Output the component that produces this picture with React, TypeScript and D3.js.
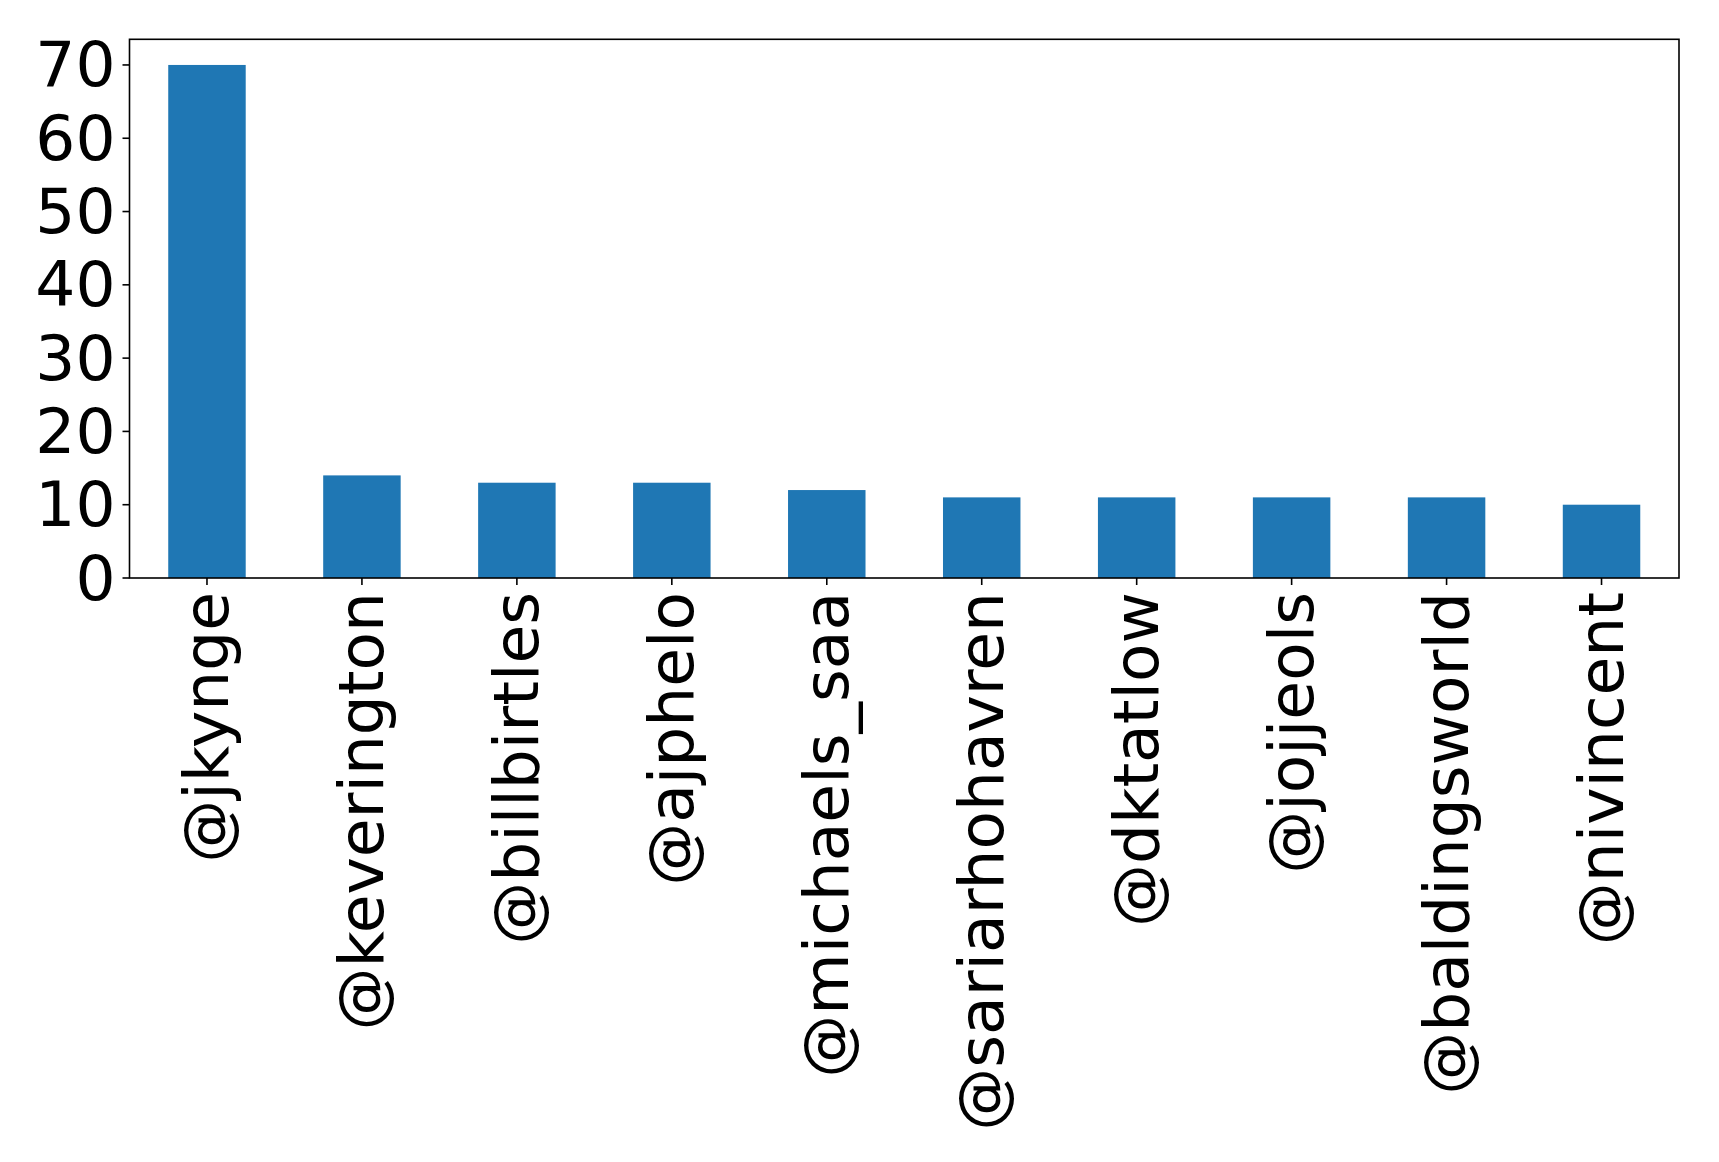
import { scaleBand, scaleLinear } from "d3";

const users = [
  "@jkynge",
  "@keverington",
  "@billbirtles",
  "@ajphelo",
  "@michaels_saa",
  "@sariarhohavren",
  "@dktatlow",
  "@jojjeols",
  "@baldingsworld",
  "@nivincent"
];
const counts = [70, 14, 13, 13, 12, 11, 11, 11, 11, 10];
const yTicks = [0, 10, 20, 30, 40, 50, 60, 70];

const width = 1719;
const height = 1162;
const plotLeft = 129.5;
const plotRight = 1679;
const plotTop = 39.3;
const plotBottom = 578;
const tickLen = 7;
const tickPad = 7;
const fontSize = 63;
const barColor = "#1f77b4";

function App() {
  const x = scaleBand<string>()
    .domain(users)
    .range([plotLeft, plotRight])
    .paddingInner(0.5)
    .paddingOuter(0.25);
  const yMax = Math.max(...counts) * 1.05;
  const y = scaleLinear().domain([0, yMax]).range([plotBottom, plotTop]);

  return (
    <svg
      width={width}
      height={height}
      style={{ position: "absolute", left: 0, top: 0, background: "#fff" }}
      fontFamily="DejaVu Sans, sans-serif"
    >
      <rect x={0} y={0} width={width} height={height} fill="#fff" />
      {users.map((name, i) => (
        <rect
          key={name}
          x={x(name)}
          y={y(counts[i])}
          width={x.bandwidth()}
          height={plotBottom - y(counts[i])}
          fill={barColor}
        />
      ))}
      {yTicks.map((t) => (
        <g key={t}>
          <line
            x1={plotLeft - tickLen}
            x2={plotLeft}
            y1={y(t)}
            y2={y(t)}
            stroke="#000"
            strokeWidth={1.6}
          />
          <text
            x={plotLeft - tickLen - tickPad}
            y={y(t)}
            textAnchor="end"
            dominantBaseline="central"
            fontSize={fontSize}
            fill="#000"
          >
            {t}
          </text>
        </g>
      ))}
      {users.map((name) => {
        const cx = (x(name) ?? 0) + x.bandwidth() / 2;
        const ty = plotBottom + tickLen + tickPad;
        return (
          <g key={name}>
            <line
              x1={cx}
              x2={cx}
              y1={plotBottom}
              y2={plotBottom + tickLen}
              stroke="#000"
              strokeWidth={1.6}
            />
            <text
              transform={`translate(${cx},${ty}) rotate(-90)`}
              textAnchor="end"
              dominantBaseline="central"
              fontSize={fontSize}
              fill="#000"
            >
              {name}
            </text>
          </g>
        );
      })}
      <rect
        x={plotLeft}
        y={plotTop}
        width={plotRight - plotLeft}
        height={plotBottom - plotTop}
        fill="none"
        stroke="#000"
        strokeWidth={1.6}
      />
    </svg>
  );
}

export default App;
